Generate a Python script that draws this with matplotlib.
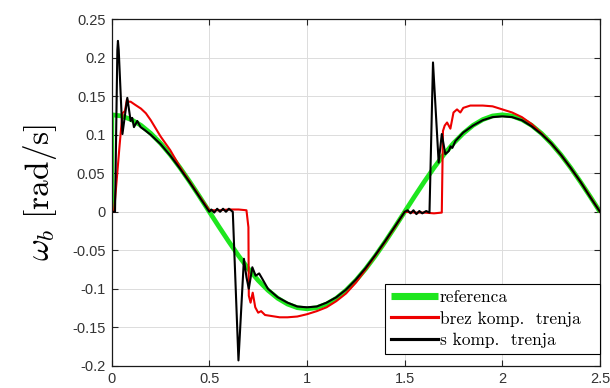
import matplotlib
matplotlib.use("Agg")
import matplotlib.pyplot as plt

plt.rcParams['mathtext.fontset'] = 'cm'

# ---- data ----
t_ref = [0.0, 0.001, 0.05, 0.10, 0.15, 0.20, 0.25, 0.30, 0.35, 0.40, 0.45, 0.50,
         0.55, 0.60, 0.65, 0.70, 0.75, 0.80, 0.85, 0.90, 0.95, 1.00,
         1.05, 1.10, 1.15, 1.20, 1.25, 1.30, 1.35, 1.40, 1.45, 1.50,
         1.55, 1.60, 1.65, 1.70, 1.75, 1.80, 1.85, 1.90, 1.95, 2.00,
         2.05, 2.10, 2.15, 2.20, 2.25, 2.30, 2.35, 2.40, 2.45, 2.50]
w_ref = [0.0, 0.126, 0.1245, 0.1198, 0.1123, 0.1019, 0.0891, 0.0741, 0.0572, 0.0389, 0.0197, 0.0,
         -0.0197, -0.0389, -0.0572, -0.0741, -0.0891, -0.1019, -0.1123, -0.1198, -0.1245, -0.126,
         -0.1245, -0.1198, -0.1123, -0.1019, -0.0891, -0.0741, -0.0572, -0.0389, -0.0197, 0.0,
         0.0197, 0.0389, 0.0572, 0.0741, 0.0891, 0.1019, 0.1123, 0.1198, 0.1245, 0.126,
         0.1245, 0.1198, 0.1123, 0.1019, 0.0891, 0.0741, 0.0572, 0.0389, 0.0197, 0.0]

t_brez = [0.0, 0.012, 0.04, 0.055, 0.068, 0.078, 0.085, 0.097, 0.12, 0.15, 0.175, 0.20,
          0.25, 0.30, 0.35, 0.40, 0.45, 0.50, 0.55, 0.60, 0.65, 0.69, 0.700, 0.702,
          0.711, 0.722, 0.735, 0.75, 0.765, 0.785, 0.81, 0.86, 0.90, 0.95, 1.00,
          1.05, 1.10, 1.15, 1.20, 1.25, 1.30, 1.35, 1.40, 1.45, 1.50, 1.55, 1.60,
          1.65, 1.69, 1.696, 1.705, 1.717, 1.734, 1.75, 1.768, 1.785, 1.80, 1.836,
          1.90, 1.95, 2.00, 2.05, 2.10, 2.15, 2.20, 2.25, 2.30, 2.35, 2.40, 2.45, 2.50]
w_brez = [0.0, 0.0, 0.085, 0.128, 0.131, 0.146, 0.143, 0.143, 0.139, 0.134, 0.128, 0.119,
          0.098, 0.080, 0.058, 0.039, 0.020, 0.002, 0.002, 0.003, 0.003, 0.002, -0.02, -0.109,
          -0.118, -0.105, -0.124, -0.131, -0.129, -0.134, -0.135, -0.137, -0.137, -0.136, -0.133,
          -0.129, -0.124, -0.116, -0.106, -0.092, -0.075, -0.057, -0.039, -0.020, 0.0, -0.001, -0.001,
          -0.002, -0.001, 0.105, 0.112, 0.116, 0.108, 0.129, 0.133, 0.129, 0.135, 0.138,
          0.138, 0.137, 0.133, 0.129, 0.123, 0.114, 0.102, 0.089, 0.074, 0.057, 0.039, 0.0197, 0.0]

t_s = [0.0, 0.017, 0.029, 0.032, 0.036, 0.055, 0.08, 0.097, 0.105, 0.114, 0.131, 0.148, 0.17, 0.20,
       0.25, 0.30, 0.35, 0.40, 0.45, 0.50, 0.51, 0.525, 0.54, 0.555, 0.57, 0.585, 0.60, 0.615, 0.62,
       0.649, 0.677, 0.69, 0.702, 0.72, 0.737, 0.755, 0.771, 0.80, 0.85, 0.90, 0.95, 1.00,
       1.05, 1.10, 1.15, 1.20, 1.25, 1.30, 1.35, 1.40, 1.45, 1.50, 1.515, 1.53, 1.545, 1.56,
       1.575, 1.59, 1.61, 1.627, 1.645, 1.674, 1.69, 1.708, 1.726, 1.735, 1.744, 1.76, 1.80,
       1.85, 1.90, 1.95, 2.00, 2.05, 2.10, 2.15, 2.20, 2.25, 2.30, 2.35, 2.40, 2.45, 2.50]
w_s = [0.0, 0.0, 0.21, 0.222, 0.21, 0.101, 0.148, 0.118, 0.122, 0.110, 0.118, 0.110, 0.106, 0.100,
       0.088, 0.073, 0.056, 0.038, 0.019, 0.0, 0.003, -0.001, 0.004, 0.0, 0.004, 0.0, 0.004, 0.001, 0.0,
       -0.193, -0.061, -0.085, -0.100, -0.072, -0.083, -0.080, -0.087, -0.100, -0.111, -0.118, -0.123, -0.124,
       -0.123, -0.118, -0.111, -0.101, -0.088, -0.073, -0.056, -0.038, -0.019, 0.0, 0.002, -0.002, 0.002, -0.003,
       0.001, -0.002, 0.001, -0.001, 0.194, 0.064, 0.101, 0.075, 0.079, 0.085, 0.083, 0.092, 0.103,
       0.112, 0.119, 0.123, 0.124, 0.123, 0.119, 0.111, 0.101, 0.089, 0.074, 0.057, 0.039, 0.019, 0.0]

labels = ['referenca', 'brez komp.  trenja', 's komp.  trenja']
xticks = [0, 0.5, 1, 1.5, 2, 2.5]
xticklabels = ['0', '0.5', '1', '1.5', '2', '2.5']
yticks = [-0.2, -0.15, -0.1, -0.05, 0, 0.05, 0.1, 0.15, 0.2, 0.25]
yticklabels = ['-0.2', '-0.15', '-0.1', '-0.05', '0', '0.05', '0.1', '0.15', '0.2', '0.25']

fig = plt.figure(figsize=(6.1, 3.88), dpi=100)
ax = fig.add_axes([0.1831, 0.0572, 0.8005, 0.893])

ax.plot(t_ref, w_ref, color='#1ee61e', lw=3.4, label=labels[0], solid_capstyle='butt')
ax.plot(t_brez, w_brez, color='#ee0000', lw=1.5, label=labels[1])
ax.plot(t_s, w_s, color='black', lw=1.5, label=labels[2])

ax.set_xlim(0, 2.5)
ax.set_ylim(-0.2, 0.25)
ax.set_xticks(xticks)
ax.set_xticklabels(xticklabels)
ax.set_yticks(yticks)
ax.set_yticklabels(yticklabels)

ax.grid(True, color='#dcdcdc', lw=0.7)
ax.set_axisbelow(True)
ax.tick_params(direction='in', length=4, width=0.8, top=True, right=True,
               labelsize=10.5, labelcolor='#333333', color='#262626', pad=4.5)
for lab in ax.get_xticklabels() + ax.get_yticklabels():
    lab.set_family('Liberation Sans')
for sp in ax.spines.values():
    sp.set_linewidth(0.9)
    sp.set_color('#1a1a1a')

ax.set_ylabel(r'$\omega_b\ [\mathrm{rad/s}]$', fontsize=24, labelpad=9)

leg = ax.legend(loc='lower left', bbox_to_anchor=(0.56, 0.035, 0.44, 0.2), mode='expand',
                borderaxespad=0,
                prop={'family': 'cmr10', 'size': 12.5}, handlelength=2.7,
                handletextpad=0.1, labelspacing=0.33, borderpad=0.35,
                fancybox=False, framealpha=1, edgecolor='black')
leg.get_frame().set_linewidth(0.8)
for line in leg.get_lines():
    line.set_linewidth(line.get_linewidth() * 1.5)

fig.savefig('out.png', dpi=100)
